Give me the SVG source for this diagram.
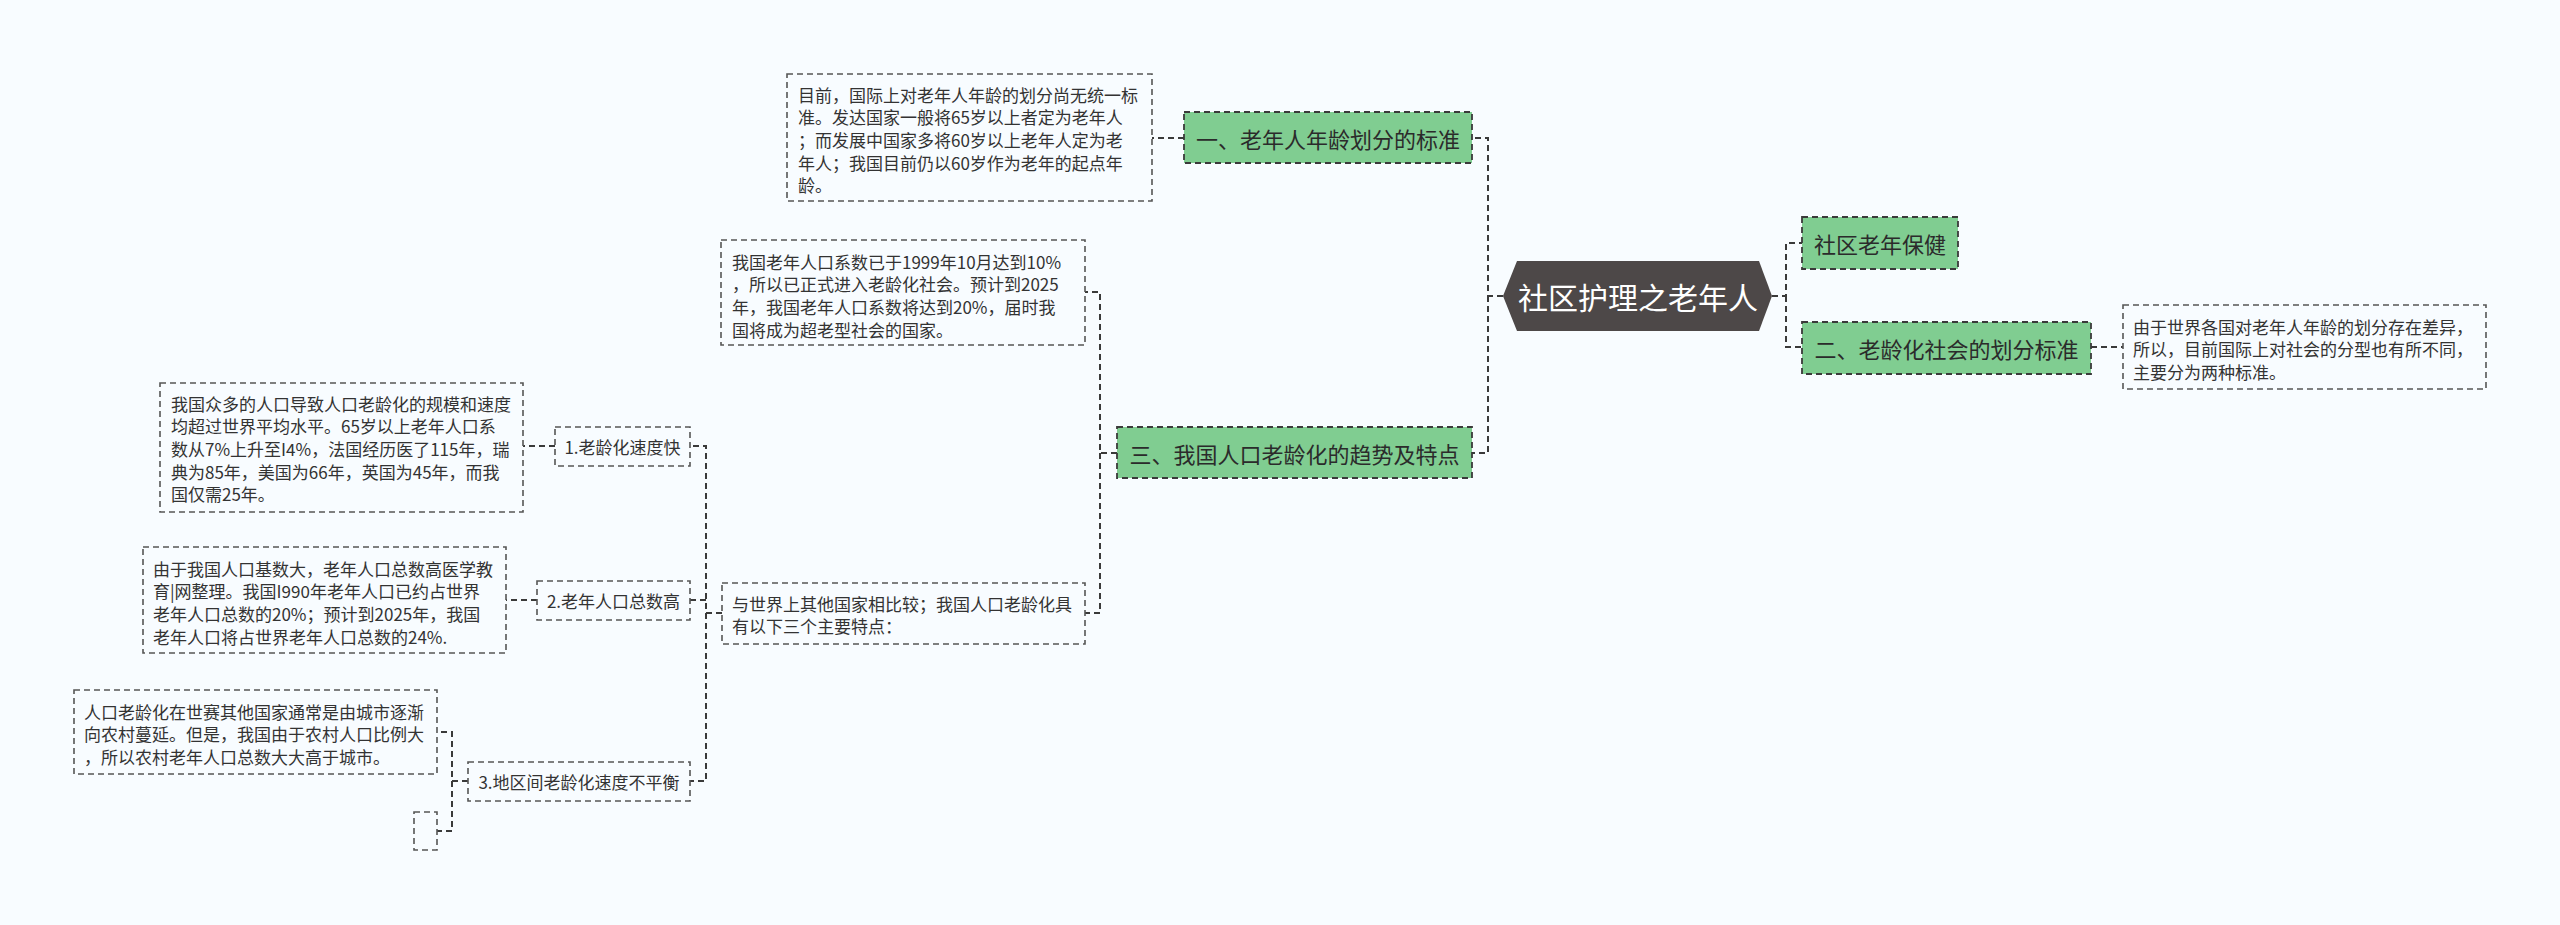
<svg xmlns="http://www.w3.org/2000/svg" width="2560" height="925" viewBox="0 0 2560 925">
<style>
text{font-family:"Noto Sans CJK SC","Microsoft YaHei",sans-serif;dominant-baseline:central;fill:#333}
.box{fill:none;stroke:#555;stroke-width:1.6;stroke-dasharray:6 4}
.green{fill:#80cd91;stroke:#3a3a3a;stroke-width:1.8;stroke-dasharray:6 4}
.small{fill:none;stroke:#555;stroke-width:1.6;stroke-dasharray:6 4}
.t17{font-size:17px}
.t22{font-size:22px;fill:#2b2b2b}
.conn path{fill:none;stroke:#3a3a3a;stroke-width:2;stroke-dasharray:6 4}
</style>
<rect width="2560" height="925" fill="#f8fcff"/>
<g class="conn" id="connectors">
<path d="M1503,296 H1488 V138 H1472"/>
<path d="M1488,296 V453 H1472"/>
<path d="M1184,138 H1152"/>
<path d="M1117,453 H1100 V292 H1085"/>
<path d="M1100,453 V613 H1085"/>
<path d="M722,613 H706 V446 H690"/>
<path d="M706,600 H690"/>
<path d="M706,613 V781 H690"/>
<path d="M555,446 H523"/>
<path d="M537,600 H506"/>
<path d="M468,781 H452 V732 H437"/>
<path d="M452,781 V831 H437"/>
<path d="M1772,296 H1786 V243 H1802"/>
<path d="M1786,296 V347 H1802"/>
<path d="M2091,347 H2123"/>
</g>
<g id="root">
<polygon points="1503,296 1517,261 1759,261 1772,296 1759,331 1517,331" fill="#4d4848"/>
<text x="1638" y="296" font-size="30" text-anchor="middle" style="fill:#fff">社区护理之老年人</text>
</g>
<g id="n1">
<rect class="green" x="1184" y="112" width="288" height="51"/>
<text class="t22" x="1328" y="138" text-anchor="middle">一、老年人年龄划分的标准</text>
</g>
<g id="n1a">
<rect class="box" x="787" y="74" width="365" height="127"/>
<text class="t17" x="798" y="94">目前，国际上对老年人年龄的划分尚无统一标</text>
<text class="t17" x="798" y="116.7">准。发达国家一般将65岁以上者定为老年人</text>
<text class="t17" x="798" y="139.4">；而发展中国家多将60岁以上老年人定为老</text>
<text class="t17" x="798" y="162.1">年人；我国目前仍以60岁作为老年的起点年</text>
<text class="t17" x="798" y="184.8">龄。</text>
</g>
<g id="n2">
<rect class="green" x="1802" y="217" width="156" height="52"/>
<text class="t22" x="1880" y="243" text-anchor="middle">社区老年保健</text>
</g>
<g id="n3">
<rect class="green" x="1802" y="322" width="289" height="52"/>
<text class="t22" x="1946.5" y="348" text-anchor="middle">二、老龄化社会的划分标准</text>
</g>
<g id="n3a">
<rect class="box" x="2123" y="305" width="363" height="84"/>
<text class="t17" x="2133" y="326">由于世界各国对老年人年龄的划分存在差异，</text>
<text class="t17" x="2133" y="348.7">所以，目前国际上对社会的分型也有所不同，</text>
<text class="t17" x="2133" y="371.4">主要分为两种标准。</text>
</g>
<g id="n4">
<rect class="green" x="1117" y="427" width="355" height="51"/>
<text class="t22" x="1294.5" y="453" text-anchor="middle">三、我国人口老龄化的趋势及特点</text>
</g>
<g id="n4a">
<rect class="box" x="721" y="240" width="364" height="105"/>
<text class="t17" x="732" y="261">我国老年人口系数已于1999年10月达到10%</text>
<text class="t17" x="732" y="283.7">，所以已正式进入老龄化社会。预计到2025</text>
<text class="t17" x="732" y="306.4">年，我国老年人口系数将达到20%，届时我</text>
<text class="t17" x="732" y="329.1">国将成为超老型社会的国家。</text>
</g>
<g id="n4b">
<rect class="box" x="722" y="583" width="363" height="61"/>
<text class="t17" x="732" y="603">与世界上其他国家相比较；我国人口老龄化具</text>
<text class="t17" x="732" y="625.7">有以下三个主要特点：</text>
</g>
<g id="n5">
<rect class="small" x="555" y="427" width="135" height="39"/>
<text class="t17" x="622.5" y="446.5" text-anchor="middle">1.老龄化速度快</text>
</g>
<g id="n5a">
<rect class="box" x="160" y="383" width="363" height="129"/>
<text class="t17" x="171" y="403">我国众多的人口导致人口老龄化的规模和速度</text>
<text class="t17" x="171" y="425.7">均超过世界平均水平。65岁以上老年人口系</text>
<text class="t17" x="171" y="448.4">数从7%上升至I4%，法国经历医了115年，瑞</text>
<text class="t17" x="171" y="471.1">典为85年，美国为66年，英国为45年，而我</text>
<text class="t17" x="171" y="493.8">国仅需25年。</text>
</g>
<g id="n6">
<rect class="small" x="537" y="581" width="153" height="39"/>
<text class="t17" x="613.5" y="600.5" text-anchor="middle">2.老年人口总数高</text>
</g>
<g id="n6a">
<rect class="box" x="143" y="547" width="363" height="106"/>
<text class="t17" x="153" y="568">由于我国人口基数大，老年人口总数高医学教</text>
<text class="t17" x="153" y="590.7">育|网整理。我国I990年老年人口已约占世界</text>
<text class="t17" x="153" y="613.4">老年人口总数的20%；预计到2025年，我国</text>
<text class="t17" x="153" y="636.1">老年人口将占世界老年人口总数的24%.</text>
</g>
<g id="n7">
<rect class="small" x="468" y="762" width="222" height="39"/>
<text class="t17" x="579" y="781.5" text-anchor="middle">3.地区间老龄化速度不平衡</text>
</g>
<g id="n7a">
<rect class="box" x="74" y="690" width="363" height="84"/>
<text class="t17" x="84" y="711">人口老龄化在世赛其他国家通常是由城市逐渐</text>
<text class="t17" x="84" y="733.7">向农村蔓延。但是，我国由于农村人口比例大</text>
<text class="t17" x="84" y="756.4">，所以农村老年人口总数大大高于城市。</text>
</g>
<g id="n7b">
<rect class="small" x="414" y="812" width="23" height="38"/>
</g>
</svg>
